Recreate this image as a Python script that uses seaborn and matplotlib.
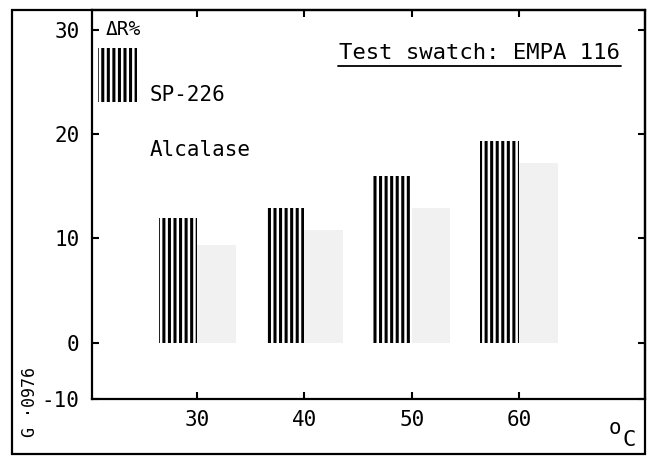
import numpy as np
import pandas as pd
import matplotlib
matplotlib.use('Agg')
import matplotlib.pyplot as plt
from matplotlib.patches import Rectangle
import seaborn as sns

# values
temps = [30, 40, 50, 60]
sp226 = [12.0, 12.9, 16.0, 19.3]
alcalase = [9.4, 10.8, 12.9, 17.2]
enzymes = ['SP-226', 'Alcalase']
ytick_vals = [-5.4, 0, 10, 20, 30]
ytick_labels = ['-10', '0', '10', '20', '30']

df = pd.DataFrame({
    'temp': temps * 2,
    'enzyme': ['SP-226'] * 4 + ['Alcalase'] * 4,
    'dR': sp226 + alcalase,
})

sns.set_theme(style='ticks')
plt.rcParams['font.family'] = ['DejaVu Sans Mono', 'DejaVu Sans']
plt.rcParams['text.color'] = 'black'
plt.rcParams['hatch.linewidth'] = 2.2

fig = plt.figure(figsize=(6.54, 4.57), dpi=100)
ax = fig.add_axes([0.1407, 0.127, 0.845, 0.851])

sns.barplot(data=df, x='temp', y='dR', hue='enzyme', hue_order=enzymes,
            native_scale=True, width=0.72, errorbar=None, legend=False,
            palette=['white', '#f1f1f1'], ax=ax)

for bar in ax.containers[0]:
    bar.set_facecolor('white')
    bar.set_edgecolor('black')
    bar.set_hatch('|||')
    bar.set_linewidth(0)
for bar in ax.containers[1]:
    bar.set_facecolor('#f1f1f1')
    bar.set_edgecolor('#f1f1f1')
    bar.set_linewidth(0)

ax.set_xlim(20.2, 71.7)
ax.set_ylim(-5.4, 31.9)
ax.set_xticks(temps)
ax.set_yticks(ytick_vals)
ax.set_yticklabels(ytick_labels)
ax.set_xlabel('')
ax.set_ylabel('')
ax.tick_params(direction='in', top=True, right=True, length=5, width=1.5,
               labelsize=15, colors='black')
ax.tick_params(axis='y', pad=9)
ax.tick_params(axis='x', pad=8)
for s in ax.spines.values():
    s.set_visible(True)
    s.set_linewidth(1.6)
    s.set_color('black')

# legend-like annotations
ax.text(21.5, 30, '\u0394R%', fontsize=14, va='center', ha='left')
ax.add_patch(Rectangle((20.76, 23.1), 3.64, 5.2, facecolor='white',
                       edgecolor='black', hatch='|||', linewidth=0))
ax.text(25.6, 23.8, 'SP-226', fontsize=15, va='center', ha='left')
ax.text(25.6, 18.5, 'Alcalase', fontsize=15, va='center', ha='left')

ax.text(69.4, 27.2, 'Test swatch: EMPA 116', fontsize=16, ha='right', va='baseline')
ax.plot([43.1, 69.5], [26.5, 26.5], color='black', linewidth=1.3)

# unit label and figure code
fig.text(615 / 654, 1 - 428 / 457, 'o', fontsize=15, ha='center', va='center')
fig.text(629 / 654, 1 - 440 / 457, 'C', fontsize=16, ha='center', va='center')
fig.text(30 / 654, 1 - 402 / 457, 'G \u00b70976', fontsize=12, rotation=90,
         ha='center', va='center')

fig.add_artist(Rectangle((12 / 654, 3 / 457), 633 / 654, 444 / 457,
                         transform=fig.transFigure, fill=False,
                         edgecolor='black', linewidth=1.6))

fig.savefig('out.png', dpi=100)
